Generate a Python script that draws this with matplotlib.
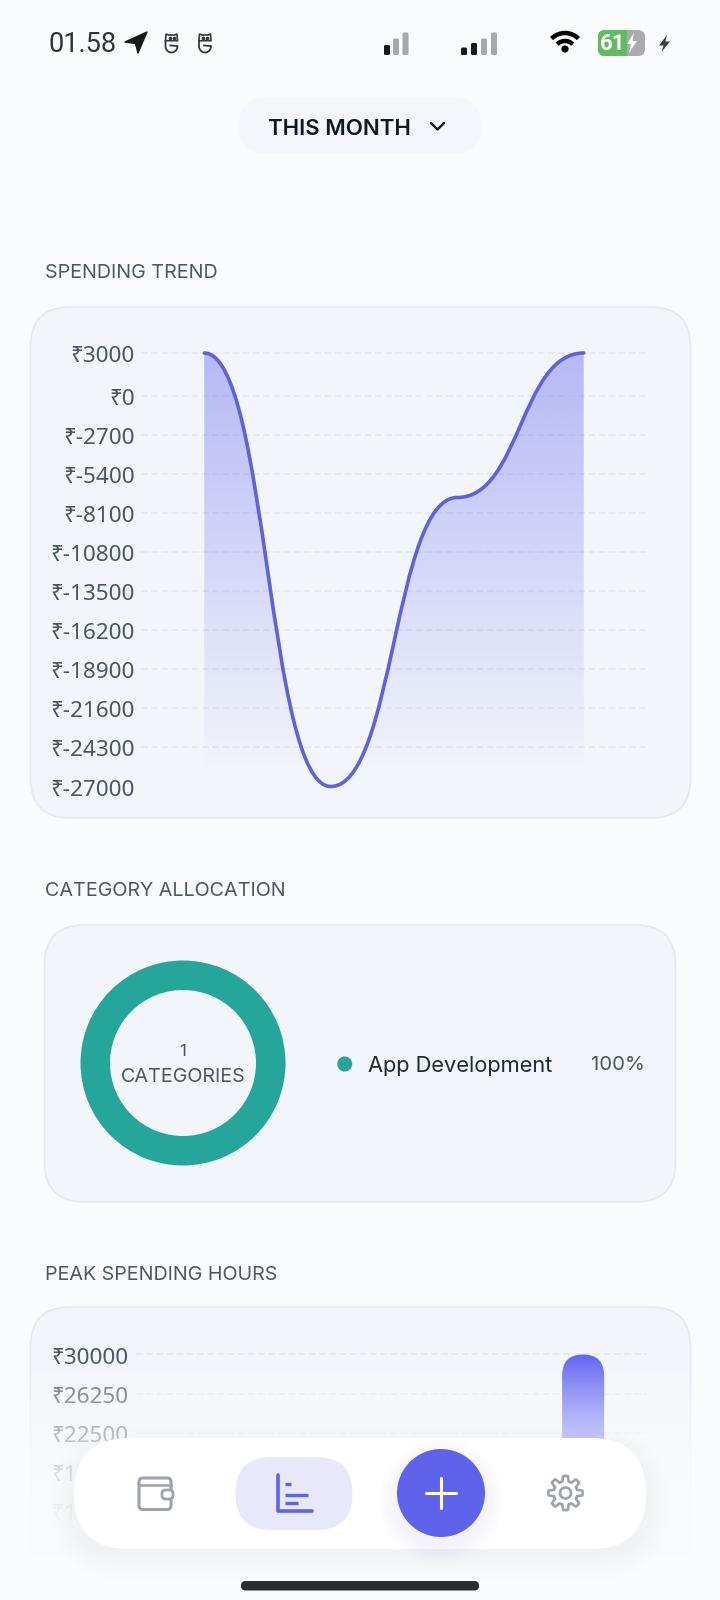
import numpy as np
import matplotlib
matplotlib.use('Agg')
import matplotlib.pyplot as plt
from matplotlib.patches import FancyBboxPatch, Circle, Polygon, Arc, PathPatch, Rectangle
from matplotlib.path import Path
from matplotlib.transforms import ScaledTranslation

W, H = 720, 1600

plt.rcParams['font.family'] = ['Noto Sans', 'Open Sans', 'DejaVu Sans']

# Spending trend
trend_values = [3000, -27000, -7000, 3000]
trend_ticks = [3000, 0, -2700, -5400, -8100, -10800, -13500, -16200, -18900, -21600, -24300, -27000]
trend_labels = ['₹3000', '₹0', '₹-2700', '₹-5400', '₹-8100', '₹-10800', '₹-13500', '₹-16200',
                '₹-18900', '₹-21600', '₹-24300', '₹-27000']

# Category allocation
category_names = ['App Development']
category_shares = [100]
category_colors = ['#26a69a']

# Peak spending hours, the lower ticks are off screen
peak_values = [0, 0, 0, 30000]
peak_ticks = [30000, 26250, 22500, 18750, 15000]
peak_labels = ['₹30000', '₹26250', '₹22500', '₹18750', '₹15000']
peak_axis_min = 0

BG = '#f9fbfd'
CARD = '#f2f5fa'
EDGE = '#e5e8ef'
INDIGO = '#6366f1'
LINE = '#5f62da'
GRID = '#e4e7ee'
LABEL = '#4b5563'
GRAY = '#9ca3af'


def px_axes(x0, y0, x1, y1, zorder=1):
    # axes box given in image pixels, y counted from the top
    ax = fig.add_axes([x0 / W, 1 - y1 / H, (x1 - x0) / W, (y1 - y0) / H], zorder=zorder)
    ax.patch.set_alpha(0)
    return ax


def rrect(ax, x0, y0, x1, y1, r, fc='none', ec='none', lw=0, zorder=2, alpha=None):
    p = FancyBboxPatch((x0, y0), x1 - x0, y1 - y0, boxstyle=f'round,pad=0,rounding_size={r}',
                       fc=fc, ec=ec, lw=lw, zorder=zorder, alpha=alpha)
    ax.add_patch(p)
    return p


def style_chart(ax, ticks, labels, pad):
    ax.set_yticks(ticks)
    ax.set_yticklabels(labels, fontsize=16.2, color=LABEL)
    ax.set_xticks([])
    ax.tick_params(axis='y', length=0, pad=pad)
    ax.grid(axis='y', color=GRID, lw=1.2, ls=(0, (4.2, 1.9)))
    ax.set_axisbelow(True)
    for gl in ax.yaxis.get_gridlines():
        gl.set_clip_on(False)  # top line sits right on the axes edge
    for s in ax.spines.values():
        s.set_visible(False)
    # labels sit about a pixel lower than the gridline
    for lab in ax.get_yticklabels():
        lab.set_transform(lab.get_transform() + ScaledTranslation(0, -1 / 100, fig.dpi_scale_trans))


fig = plt.figure(figsize=(W / 100, H / 100), dpi=100, facecolor=BG)

# background layer: cards and section titles
bg = px_axes(0, 0, W, H, zorder=0)
bg.set_xlim(0, W)
bg.set_ylim(H, 0)
bg.axis('off')

rrect(bg, 239, 98, 481, 153, 27, fc='#f3f6fa')
bg.text(339, 129, 'THIS MONTH', family='Inter', weight='semibold', fontsize=16, color='#111827',
        ha='center', va='center')
bg.plot([431, 437.5, 444], [123, 129.5, 123], color='#111827', lw=1.7, solid_capstyle='round',
        solid_joinstyle='round')

for title, ty in [('SPENDING TREND', 273.5), ('CATEGORY ALLOCATION', 891), ('PEAK SPENDING HOURS', 1274.5)]:
    bg.text(45, ty, title, family='Inter', fontsize=14.2, color='#4b5563', ha='left', va='center')

rrect(bg, 30.5, 307, 690.5, 818, 40, fc=CARD, ec=EDGE, lw=1.2)
rrect(bg, 44.5, 925, 675.5, 1202, 40, fc=CARD, ec=EDGE, lw=1.2)
rrect(bg, 30.5, 1307, 690.5, 1700, 40, fc=CARD, ec=EDGE, lw=1.2)

# status bar
bg.text(49, 44, '01.58', family='Roboto', fontsize=19.5, color='#2f3237', ha='left', va='center')
bg.add_patch(Polygon([[125, 42], [147, 32], [138, 53], [135.5, 43.5]], closed=True, fc='#17191c', ec='#17191c',
                     lw=1.0, joinstyle='round'))
for cx in [171.5, 205]:
    head = [[-6, 40.7], [-5.5, 34], [-3, 35], [3, 35], [5.5, 34], [6, 40.7], [-6, 40.7]]
    bg.add_patch(Polygon([[cx + a, b] for a, b in head], closed=True, fc='none', ec='#34373b', lw=1.2))
    hook_t = np.linspace(np.pi, 0, 30)
    bg.plot(np.r_[cx - 6, cx + 6 * np.cos(hook_t), cx - 1], np.r_[41, 46 + 6.5 * np.sin(hook_t), 45.5],
            color='#34373b', lw=1.3)
    bg.plot([cx - 2, cx + 2], [38, 38], color='#34373b', lw=0, marker='o', ms=1.6)

for x0, top_y, col in [(384, 45, '#17191c'), (393, 38.5, '#a6a8ab'), (402.5, 32.5, '#a6a8ab'),
                       (461, 47.5, '#17191c'), (471, 43, '#17191c'), (481, 38.5, '#a6a8ab'), (491, 32.5, '#a6a8ab')]:
    rrect(bg, x0, top_y, x0 + 6, 55, 1.5, fc=col)

for r, lw in [(19, 3.2), (11, 3.2)]:
    bg.add_patch(Arc((565, 52), 2 * r, 2 * r, theta1=225, theta2=315, color='black', lw=lw))
bg.add_patch(Circle((565, 49), 3.6, fc='black'))

rrect(bg, 598, 30, 645, 56, 7, fc='#a9abae')
clip_box = rrect(bg, 598, 30, 645, 56, 7, fc='none')
green = Rectangle((598, 30), 29, 26, fc='#62bb61', zorder=3)
bg.add_patch(green)
green.set_clip_path(clip_box)
bg.add_patch(Polygon([[634, 33], [627, 44], [631, 44], [629, 53], [637, 41], [632.5, 41]], closed=True, fc='white', zorder=4))
bg.text(612.5, 43.5, '61', family='Roboto', weight='bold', fontsize=16, color='white', ha='center', va='center', zorder=5)
bg.add_patch(Polygon([[667, 35], [659, 45.5], [663.5, 45.5], [661.5, 52], [670, 41.5], [665.5, 41.5]], closed=True, fc='#3a3c40'))

# spending trend chart
ax1 = px_axes(141, 353, 647, 786.5)
ax1.set_xlim(-0.5, 3.5)
ax1.set_ylim(min(trend_ticks), max(trend_ticks))
style_chart(ax1, trend_ticks, trend_labels, pad=4.4)
ax1.yaxis.get_gridlines()[-1].set_visible(False)  # no line at the bottom value

verts = [(0, trend_values[0])]
codes = [Path.MOVETO]
for i in range(1, len(trend_values)):
    verts += [(i - 0.5, trend_values[i - 1]), (i - 0.5, trend_values[i]), (i, trend_values[i])]
    codes += [Path.CURVE4] * 3
curve = Path(verts, codes)
area = Path(verts + [(len(trend_values) - 1, min(trend_ticks)), (0, min(trend_ticks)), (0, trend_values[0])],
            codes + [Path.LINETO, Path.LINETO, Path.LINETO])

grad = np.zeros((256, 2, 4))
grad[..., :3] = matplotlib.colors.to_rgb(INDIGO)
grad[..., 3] = np.clip(0.42 * (1 - np.linspace(0, 1.03, 256)), 0, 1)[:, None]
im = ax1.imshow(grad, extent=[0, len(trend_values) - 1, min(trend_ticks), max(trend_ticks)], aspect='auto',
                origin='upper', zorder=2)
im.set_clip_path(PathPatch(area, transform=ax1.transData))
ax1.add_patch(PathPatch(curve, fc='none', ec=LINE, lw=2.6, zorder=3, clip_on=False, capstyle='round'))
ax1.set_xlim(-0.5, 3.5)
ax1.set_ylim(min(trend_ticks), max(trend_ticks))

# category donut
ax2 = px_axes(183 - 103, 1063 - 103, 183 + 103, 1063 + 103)
ax2.pie(category_shares, colors=category_colors, radius=102.5 / 103, startangle=90,
        wedgeprops=dict(width=29.5 / 103, lw=0))
ax2.set_xlim(-1, 1)
ax2.set_ylim(-1, 1)
bg.text(183, 1052, str(len(category_names)), family='Inter', fontsize=12, color='#4b5563', ha='center', va='center')
bg.text(183, 1076.5, 'CATEGORIES', family='Inter', fontsize=14.2, color='#4b5563', ha='center', va='center')
bg.add_patch(Circle((344.7, 1064), 7.5, fc=category_colors[0], zorder=3))
bg.text(367.5, 1065.5, category_names[0], family='Inter', fontsize=15.7, color='#1f2937', ha='left', va='center')
bg.text(645, 1065.5, f'{category_shares[0]}%', family='Inter', fontsize=14.6, color='#4b5563', ha='right', va='center')

# peak spending chart, runs off the bottom of the screen
ax3 = px_axes(136, 1354.5, 647, 1668.5)
ax3.set_xlim(-0.5, 3.5)
ax3.set_ylim(peak_axis_min, max(peak_ticks))
style_chart(ax3, peak_ticks, peak_labels, pad=5.4)
bars = ax3.bar(range(len(peak_values)), peak_values, width=42 / 127.75, color=INDIGO, zorder=3)
for b in bars:
    if b.get_height() > 0:
        b.set_visible(False)
        ax3.add_patch(FancyBboxPatch((b.get_x(), 0), b.get_width(), b.get_height(),
                                     boxstyle=f'round,pad=0,rounding_size={21 / 127.75}',
                                     mutation_aspect=(3750 / 39.3) / (1 / 127.75),
                                     fc=INDIGO, lw=0, zorder=3, clip_on=False))

# top layer: fade, navigation bar
top = px_axes(0, 0, W, H, zorder=3)
fade = np.zeros((400, 2, 4))
fade[..., :3] = matplotlib.colors.to_rgb(BG)
t = np.clip((np.linspace(1200, 1600, 400) - 1355) / 200, 0, 1)
fade[..., 3] = (1 - (1 - t) ** 2)[:, None]
top.imshow(fade, extent=[0, W, 1600, 1200], aspect='auto', origin='upper', zorder=1)
top.set_xlim(0, W)
top.set_ylim(H, 0)
top.axis('off')

# soft shadow under the bar
for grow in range(24, 0, -3):
    rrect(top, 74 - grow, 1438 - grow + 14, 646 + grow, 1549 + grow + 8, 55 + grow, fc='#1f2937', alpha=0.004, zorder=2)
rrect(top, 74, 1438, 646, 1549, 55, fc='white', zorder=3)
rrect(top, 235.5, 1457, 352.5, 1530, 36, fc='#e8e8fb', zorder=4)

for grow in range(18, 0, -3):
    top.add_patch(Circle((441, 1501), 44 + grow, fc=INDIGO, alpha=0.01, lw=0, zorder=4))
top.add_patch(Circle((441, 1493), 44, fc='#5f63ec', lw=0, zorder=5))
top.plot([426, 456], [1493, 1493], color='white', lw=2.2, solid_capstyle='round', zorder=6)
top.plot([441, 441], [1478, 1508], color='white', lw=2.2, solid_capstyle='round', zorder=6)

# wallet icon
rrect(top, 139, 1478, 171, 1509.5, 4, ec=GRAY, lw=2.2, zorder=5)
top.plot([139, 171], [1484.5, 1484.5], color=GRAY, lw=1.8, zorder=5)
rrect(top, 162, 1490, 173, 1499, 3.5, fc='white', ec=GRAY, lw=2.0, zorder=6)

# stats icon
top.plot([277.5, 277.5, 312], [1475, 1510.5, 1510.5], color='#5f63ec', lw=2.6, solid_joinstyle='round',
         solid_capstyle='round', zorder=6)
for yy, x_end in [(1483.5, 291), (1495, 308), (1503, 298)]:
    top.plot([284.5, x_end], [yy, yy], color='#5f63ec', lw=2.4, solid_capstyle='butt', zorder=6)

# gear icon
ang = np.linspace(0, 2 * np.pi, 361)
rad = 14.5 + 2.6 * np.clip(2.2 * np.cos(8 * ang), -1, 1)
top.add_patch(Polygon(np.c_[565.5 + rad * np.cos(ang), 1493 + rad * np.sin(ang)], closed=True, fc='none',
                      ec=GRAY, lw=1.9, joinstyle='round', zorder=5))
top.add_patch(Circle((565.5, 1493), 5.5, fc='none', ec=GRAY, lw=1.9, zorder=5))

rrect(top, 241, 1581, 479, 1590.5, 4.5, fc='#2b2d31', zorder=5)

fig.savefig('out.png', dpi=100, facecolor=BG)
